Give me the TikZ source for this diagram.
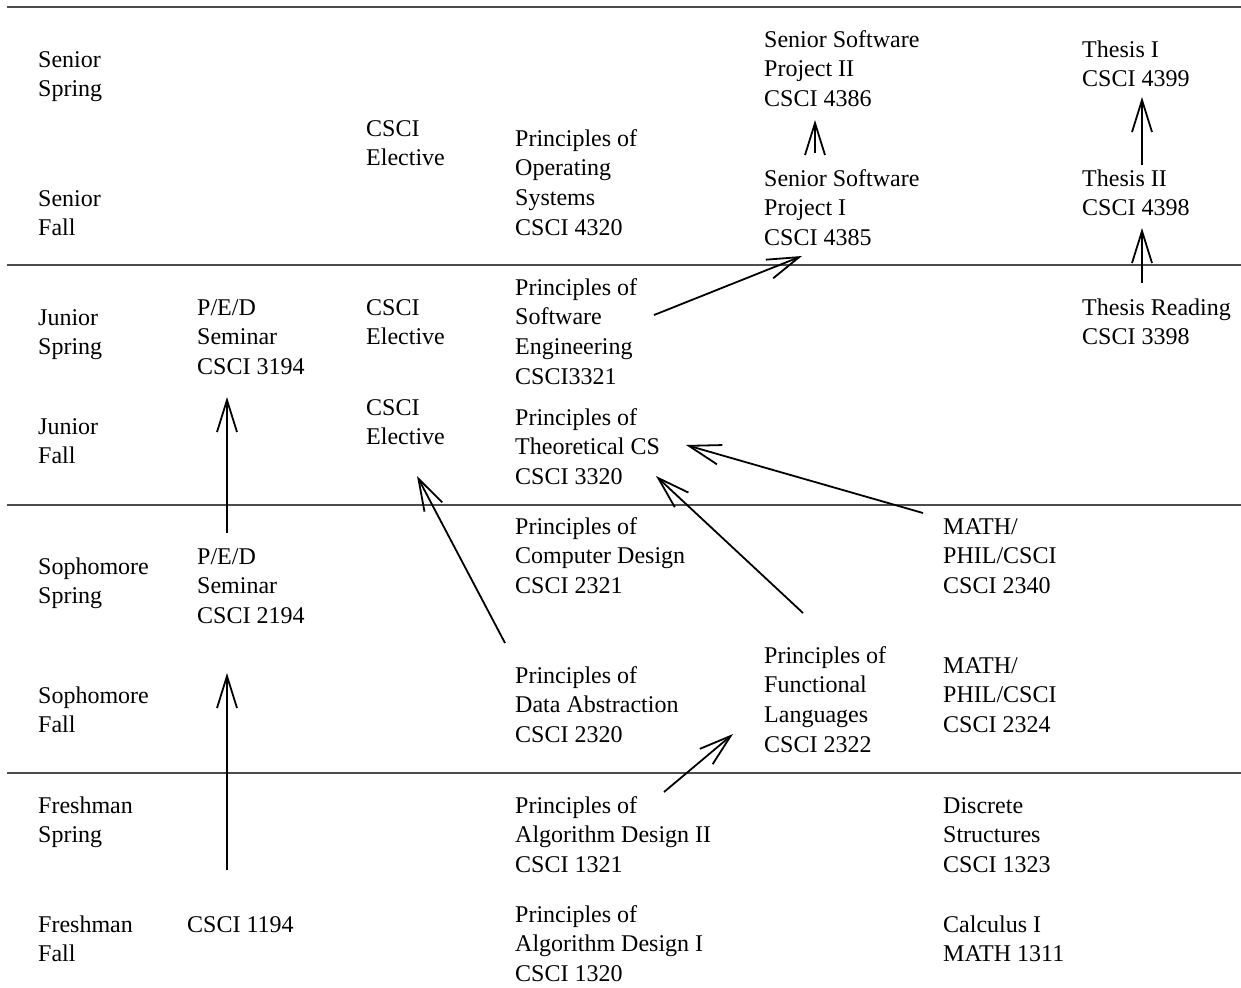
\documentclass[tikz,border=0pt]{standalone}
\usepackage{fontspec}
\setmainfont{Liberation Serif}
\usetikzlibrary{arrows.meta}
\begin{document}
\begin{tikzpicture}[x=1pt,y=-1pt,
  lbl/.style={anchor=north west,yshift=20.79pt,inner sep=0pt,align=left,font=\fontsize{24}{29.7}\selectfont},
  rule/.style={line width=1.2pt,draw=black!70},
  req/.style={line width=1.8pt,-{Straight Barb[length=32pt,width=20pt,line width=1.8pt]}}]
\useasboundingbox (0,0) rectangle (1241,987);
% horizontal rules
\coordinate (l0a) at (7,7);   \coordinate (l0b) at (1241,7);
\coordinate (l1a) at (7,265); \coordinate (l1b) at (1241,265);
\coordinate (l2a) at (7,505); \coordinate (l2b) at (1241,505);
\coordinate (l3a) at (7,773); \coordinate (l3b) at (1241,773);
\draw[rule] (l0a) -- (l0b);
\draw[rule] (l1a) -- (l1b);
\draw[rule] (l2a) -- (l2b);
\draw[rule] (l3a) -- (l3b);
% semester labels
\node[lbl] (ss)  at (38,67)  {\strut Senior\\Spring};
\node[lbl] (sf)  at (38,206) {\strut Senior\\Fall};
\node[lbl] (js)  at (38,325) {\strut Junior\\Spring};
\node[lbl] (jf)  at (38,434) {\strut Junior\\Fall};
\node[lbl] (sos) at (38,574) {\strut Sophomore\\Spring};
\node[lbl] (sof) at (38,703) {\strut Sophomore\\Fall};
\node[lbl] (fs)  at (38,813) {\strut Freshman\\Spring};
\node[lbl] (ff)  at (38,932) {\strut Freshman\\Fall};
% seminars
\node[lbl] (ped3)  at (197,315) {\strut P/E/D\\Seminar\\CSCI 3194};
\node[lbl] (ped2)  at (197,564) {\strut P/E/D\\Seminar\\CSCI 2194};
\node[lbl] (c1194) at (187,932) {\strut CSCI 1194};
% electives
\node[lbl] (el1) at (366,136) {\strut CSCI\\Elective};
\node[lbl] (el2) at (366,315) {\strut CSCI\\Elective};
\node[lbl] (el3) at (366,415) {\strut CSCI\\Elective};
% principles
\node[lbl] (os)  at (515,146) {\strut Principles of\\Operating\\Systems\\CSCI 4320};
\node[lbl] (se)  at (515,295) {\strut Principles of\\Software\\Engineering\\CSCI3321};
\node[lbl] (tcs) at (515,425) {\strut Principles of\\Theoretical CS\\CSCI 3320};
\node[lbl] (cd)  at (515,534) {\strut Principles of\\Computer Design\\CSCI 2321};
\node[lbl] (da)  at (515,683) {\strut Principles of\\Data Abstraction\\CSCI 2320};
\node[lbl] (ad2) at (515,813) {\strut Principles of\\Algorithm Design II\\CSCI 1321};
\node[lbl] (ad1) at (515,922) {\strut Principles of\\Algorithm Design I\\CSCI 1320};
% projects / functional
\node[lbl] (sp2) at (764,47)  {\strut Senior Software\\Project II\\CSCI 4386};
\node[lbl] (sp1) at (764,186) {\strut Senior Software\\Project I\\CSCI 4385};
\node[lbl] (fl)  at (764,663) {\strut Principles of\\Functional\\Languages\\CSCI 2322};
% math
\node[lbl] (m2340) at (943,534) {\strut MATH/\\PHIL/CSCI\\CSCI 2340};
\node[lbl] (m2324) at (943,673) {\strut MATH/\\PHIL/CSCI\\CSCI 2324};
\node[lbl] (ds)    at (943,813) {\strut Discrete\\Structures\\CSCI 1323};
\node[lbl] (calc)  at (943,932) {\strut Calculus I\\MATH 1311};
% thesis
\node[lbl] (t1) at (1082,57)  {\strut Thesis I\\CSCI 4399};
\node[lbl] (t2) at (1082,186) {\strut Thesis II\\CSCI 4398};
\node[lbl] (tr) at (1082,315) {\strut Thesis Reading\\CSCI 3398};
% prerequisite arrows
\draw[req] ([shift={(139,40.8)}]se.north west) -- ([shift={(38,90.8)}]sp1.north west);
\draw[req] ([shift={(51,-12.2)}]sp1.north west) -- ([shift={(51,93.8)}]sp2.north west);
\draw[req] ([shift={(60,-0.2)}]t2.north west) -- ([shift={(60,60.8)}]t1.north west);
\draw[req] ([shift={(60,-11.2)}]tr.north west) -- ([shift={(60,62.8)}]t2.north west);
\draw[req] ([shift={(30,-10.2)}]ped2.north west) -- ([shift={(30,102.8)}]ped3.north west);
\draw[req] ([shift={(40,-41.2)}]c1194.north west) -- ([shift={(30,129.8)}]ped2.north west);
\draw[req] ([shift={(-10,-19.2)}]da.north west) -- ([shift={(51,81.8)}]el3.north west);
\draw[req] ([shift={(-20,-0.2)}]m2340.north west) -- ([shift={(171,40.8)}]tcs.north west);
\draw[req] ([shift={(39,-29.2)}]fl.north west) -- ([shift={(141,71.8)}]tcs.north west);
\draw[req] ([shift={(149,-0.2)}]ad2.north west) -- ([shift={(-31,91.8)}]fl.north west);
\end{tikzpicture}
\end{document}
